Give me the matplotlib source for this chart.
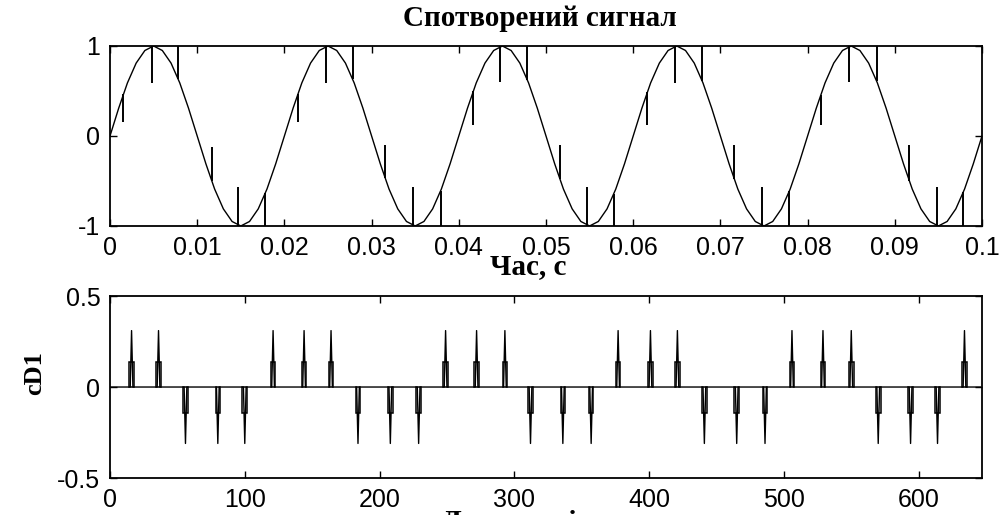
import matplotlib
matplotlib.use("Agg")
import matplotlib.pyplot as plt
import numpy as np

plt.rcParams["axes.unicode_minus"] = False
plt.rcParams["font.family"] = ["Liberation Sans", "DejaVu Sans"]

# --- distorted signal (one 50 Hz period read at 1 ms steps, repeated) ---
sample_step = 0.001
period_values = [0.0, 0.31, 0.59, 0.81, 0.95, 1.0, 0.95, 0.81, 0.59, 0.31,
                 0.0, -0.31, -0.59, -0.81, -0.95, -1.0, -0.95, -0.81, -0.59, -0.31]
n_periods = 5

spike_t = [0.00153, 0.00478, 0.00784, 0.01166, 0.01472, 0.01778, 0.0216, 0.02477,
           0.02783, 0.03154, 0.03478, 0.03792, 0.04167, 0.04472, 0.04786, 0.0516,
           0.05474, 0.0578, 0.06162, 0.0648, 0.06793, 0.0716, 0.07473, 0.0779,
           0.08154, 0.08475, 0.08792, 0.09163, 0.0948, 0.09786]
spike_base = [0.47, 1.0, 0.63, -0.5, -1.0, -0.63, 0.47, 1.0, 0.63, -0.47,
              -1.0, -0.61, 0.5, 1.0, 0.62, -0.48, -1.0, -0.64, 0.49, 1.0,
              0.61, -0.48, -1.0, -0.61, 0.46, 1.0, 0.61, -0.5, -1.0, -0.62]
spike_tip = [0.15, 0.59, 1.03, -0.12, -0.57, -1.03, 0.15, 0.59, 1.03, -0.1,
             -0.57, -1.03, 0.12, 0.6, 1.03, -0.1, -0.57, -1.03, 0.12, 0.59,
             1.03, -0.1, -0.57, -1.03, 0.12, 0.6, 1.03, -0.1, -0.57, -1.03]

top_xticks = [0, 0.01, 0.02, 0.03, 0.04, 0.05, 0.06, 0.07, 0.08, 0.09, 0.1]
top_xlabels = ["0", "0.01", "0.02", "0.03", "0.04", "0.05", "0.06", "0.07", "0.08", "0.09", "0.1"]
top_yticks = [-1, 0, 1]
top_ylabels = ["-1", "0", "1"]

# --- level-1 detail coefficients ---
cd1_len = 647
cd1_idx = [16, 36, 56, 80, 100, 121, 144, 164, 184, 208, 229, 249, 272, 293, 312,
           336, 357, 377, 401, 421, 441, 465, 486, 506, 529, 550, 570, 594, 614, 634]
cd1_peak = [0.31, 0.31, -0.31, -0.31, -0.31, 0.31, 0.31, 0.31, -0.31, -0.31,
            -0.31, 0.31, 0.31, 0.31, -0.31, -0.31, -0.31, 0.31, 0.31, 0.31,
            -0.31, -0.31, -0.31, 0.31, 0.31, 0.31, -0.31, -0.31, -0.31, 0.31]
cd1_shoulder = [0.14, 0.14, -0.14, -0.14, -0.14, 0.14, 0.14, 0.14, -0.14, -0.14,
                -0.14, 0.14, 0.14, 0.14, -0.14, -0.14, -0.14, 0.14, 0.14, 0.14,
                -0.14, -0.14, -0.14, 0.14, 0.14, 0.14, -0.14, -0.14, -0.14, 0.14]

bot_xticks = [0, 100, 200, 300, 400, 500, 600]
bot_yticks = [-0.5, 0, 0.5]
bot_ylabels = ["-0.5", "0", "0.5"]

###############################################################

t = np.arange(len(period_values) * n_periods + 1) * sample_step
signal = np.append(np.tile(period_values, n_periods), period_values[0])

cd1 = np.zeros(cd1_len)
cd1[cd1_idx] = cd1_peak

fig = plt.figure(figsize=(10, 5.15), dpi=100)

ax1 = fig.add_axes([0.110, 0.5612, 0.872, 0.3495])
ax2 = fig.add_axes([0.110, 0.0718, 0.872, 0.3534])

ax1.plot(t, signal, color="black", lw=1.0)
ax1.vlines(spike_t, spike_base, spike_tip, color="black", lw=1.4)
ax1.set_xlim(0, 0.1)
ax1.set_ylim(-1, 1)
ax1.set_xticks(top_xticks)
ax1.set_xticklabels(top_xlabels)
ax1.set_yticks(top_yticks)
ax1.set_yticklabels(top_ylabels)

ax2.plot(np.arange(cd1_len), cd1, color="black", lw=1.0)
ax2.bar(cd1_idx, cd1_shoulder, width=3.4, fill=False,
        edgecolor="black", linewidth=1.1)
ax2.set_xlim(0, cd1_len)
ax2.set_ylim(-0.5, 0.5)
ax2.set_xticks(bot_xticks)
ax2.set_yticks(bot_yticks)
ax2.set_yticklabels(bot_ylabels)

for ax in (ax1, ax2):
    ax.tick_params(direction="in", top=True, right=True, length=5,
                   width=1.0, labelsize=18)
    ax.tick_params(axis="x", pad=7)
    ax.tick_params(axis="y", pad=7)
    for s in ax.spines.values():
        s.set_linewidth(1.3)

serif_bold = dict(family=["Liberation Serif", "DejaVu Serif"], weight="bold")

fig.text(0.540, 1 - 19 / 515, "Спотворений сигнал", ha="center", va="center",
         fontsize=21, **serif_bold)
fig.text(0.528, 1 - 267 / 515, "Час, с", ha="center", va="center",
         fontsize=21, **serif_bold)
fig.text(0.035, 1 - 373 / 515, "cD1", ha="center", va="center",
         rotation=90, fontsize=19, **serif_bold)
# axis label is cut by the lower edge, as in the source picture
fig.text(0.442, 1 - 509 / 515, "Дискретні значення", ha="left", va="top",
         fontsize=21, **serif_bold)

fig.savefig("out.png", dpi=100)
